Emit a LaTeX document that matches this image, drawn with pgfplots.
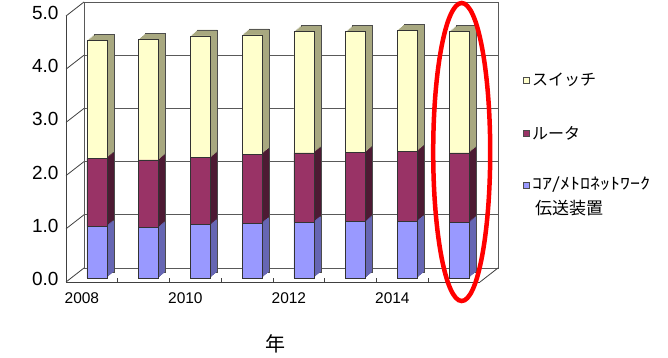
\documentclass[border=0pt]{standalone}
\usepackage{fontspec}
\setmainfont{Liberation Sans}
\newfontfamily\cjk{Noto Sans CJK JP}
\usepackage{pgfplots}
\usepackage{pgfplotstable}
\pgfplotsset{compat=1.18}
\definecolor{cblue}{HTML}{9999FF}
\definecolor{cblueS}{HTML}{6666B3}
\definecolor{cmar}{HTML}{993366}
\definecolor{cmarS}{HTML}{4D1A33}
\definecolor{cyel}{HTML}{FFFFCC}
\definecolor{cyelS}{HTML}{A8A880}
\pgfplotstableread{
year core router switch
2008 0.97 1.28 2.21
2009 0.95 1.27 2.27
2010 1.00 1.26 2.29
2011 1.03 1.30 2.24
2012 1.05 1.30 2.28
2013 1.06 1.30 2.27
2014 1.07 1.31 2.28
2015 1.04 1.31 2.28
}\datatable
\pgfplotsset{
  barax/.style={anchor=south west, scale only axis, width=414pt, height=266pt,
    xmin=2007.5, xmax=2015.5, ymin=0, ymax=5, hide axis, ybar stacked, bar width=20pt, clip=false},
}
\begin{document}
\begin{tikzpicture}
\useasboundingbox (0,0) rectangle (668pt,358pt);
\fill[white] (0,0) rectangle (668pt,358pt);
% back wall
\begin{axis}[at={(84pt,90pt)}, anchor=south west, scale only axis, width=414pt, height=266pt,
  xmin=0, xmax=1, ymin=0, ymax=5, xtick=\empty, ytick={1,2,3,4}, yticklabels={},
  major tick length=0pt, ymajorgrids, grid style={black!65, line width=0.8pt},
  axis line style={black!65, line width=0.8pt}]
\end{axis}
% front frame
\begin{axis}[at={(66pt,76pt)}, anchor=south west, scale only axis, width=414pt, height=266pt,
  xmin=2007.5, xmax=2015.5, ymin=0, ymax=5, clip=false,
  axis x line*=bottom, axis y line*=left,
  axis line style={black!75, line width=0.8pt, -},
  xtick={2008.5,2009.5,2010.5,2011.5,2012.5,2013.5,2014.5}, xticklabels={},
  tick align=inside, major tick length=4pt, x tick style={black!75, line width=0.8pt},
  extra x ticks={2008,2010,2012,2014}, extra x tick labels={2008,2010,2012,2014},
  extra x tick style={major tick length=0pt, tick style={draw=none}, xticklabel style={xshift=-10pt, yshift=-7pt}},
  xticklabel style={font=\fontsize{15.5}{15.5}\selectfont},
  ytick={0,1,2,3,4,5}, y tick style={draw=none},
  yticklabel style={font=\fontsize{19}{19}\selectfont, xshift=-4pt, yshift=3pt,
    /pgf/number format/.cd, fixed, fixed zerofill, precision=1, assume math mode=true}]
\pgfplotsinvokeforeach{0,1,2,3,4,5}{
  \draw[black!75, line width=0.8pt] (axis cs:2007.5,#1) -- ++(18pt,14pt);
}
\draw[black!75, line width=0.8pt] (axis cs:2015.5,0) -- ++(18pt,14pt);
\end{axis}
% bar depth (shadow layers)
\foreach \dx/\dy/\dr in {7/6/black!70, 5.8/5/none, 4.7/4/none, 3.5/3/none, 2.3/2/none, 1.2/1/none}{
\begin{axis}[barax, at={({71pt+\dx pt},{80pt+\dy pt})}]
\addplot[fill=cblueS, draw=\dr, line width=0.5pt] table[x=year, y=core] {\datatable};
\addplot[fill=cmarS, draw=\dr, line width=0.5pt] table[x=year, y=router] {\datatable};
\addplot[fill=cyelS, draw=\dr, line width=0.5pt] table[x=year, y=switch] {\datatable};
\end{axis}
}
% front faces
\begin{axis}[barax, at={(71pt,80pt)}]
\addplot[fill=cblue, draw=black!80, line width=0.6pt] table[x=year, y=core] {\datatable};
\addplot[fill=cmar, draw=black!80, line width=0.6pt] table[x=year, y=router] {\datatable};
\addplot[fill=cyel, draw=black!80, line width=0.6pt] table[x=year, y=switch] {\datatable};
\end{axis}
% highlight ellipse
\draw[red, line width=4.5pt] (461.7pt,206pt) ellipse (28.5pt and 149pt);
% legend
\filldraw[fill=cyel, draw=black!70, line width=0.6pt] (523pt,275pt) rectangle ++(6pt,6pt);
\node[anchor=west, inner sep=0pt] at (532pt,278pt) {\cjk\fontsize{16}{16}\selectfont スイッチ};
\filldraw[fill=cmar, draw=black!70, line width=0.6pt] (523pt,222pt) rectangle ++(6pt,6pt);
\node[anchor=west, inner sep=0pt] at (532pt,225pt) {\cjk\fontsize{16}{16}\selectfont ルータ};
\filldraw[fill=cblue, draw=black!70, line width=0.6pt] (523pt,170pt) rectangle ++(6pt,6pt);
\node[anchor=west, inner sep=0pt] at (532pt,173pt) {\cjk\fontsize{16}{16}\selectfont\scalebox{1.25}[1]{ｺｱ/ﾒﾄﾛﾈｯﾄﾜｰｸ}};
\node[anchor=west, inner sep=0pt] at (535pt,150pt) {\cjk\fontsize{17}{17}\selectfont 伝送装置};
% x axis title
\node at (275pt,14pt) {\cjk\fontsize{20}{20}\selectfont 年};
\end{tikzpicture}
\end{document}
